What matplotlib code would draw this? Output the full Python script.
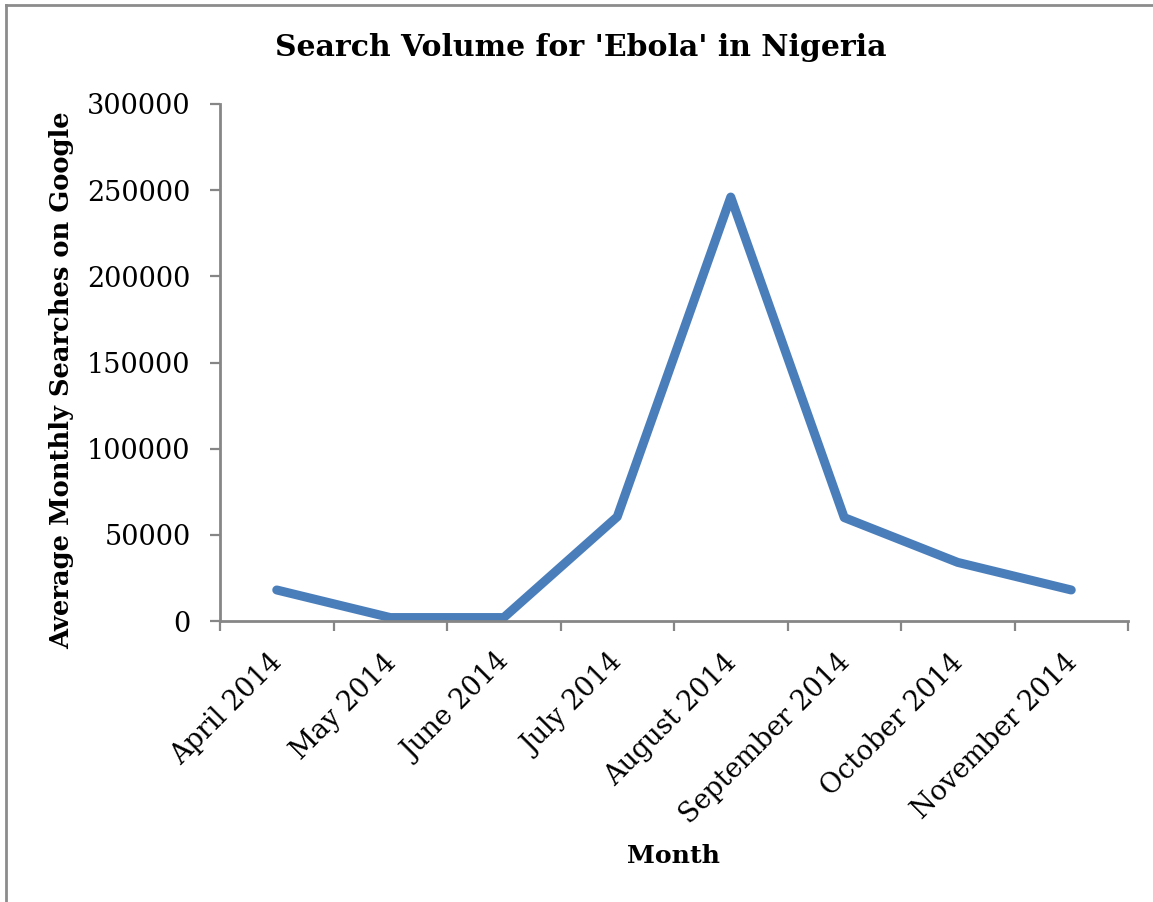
import matplotlib
matplotlib.use("Agg")
import matplotlib.pyplot as plt
from matplotlib.lines import Line2D

months = ["April 2014", "May 2014", "June 2014", "July 2014",
          "August 2014", "September 2014", "October 2014", "November 2014"]
searches = [18000, 2000, 2000, 60500, 246000, 60000, 34000, 18000]
y_ticks = [0, 50000, 100000, 150000, 200000, 250000, 300000]

line_color = "#4a7ebb"
axis_color = "#868686"
serif = ["DejaVu Serif"]

fig = plt.figure(figsize=(11.53, 9.02), dpi=100)
fig.patch.set_facecolor("white")

# outer chart frame (top and left edges)
fig.add_artist(Line2D([5.5 / 1153, 5.5 / 1153], [0, 1 - 4.5 / 902],
                      transform=fig.transFigure, color="#8c8c8c", lw=2))
fig.add_artist(Line2D([5.5 / 1153, 1], [1 - 4.5 / 902, 1 - 4.5 / 902],
                      transform=fig.transFigure, color="#8c8c8c", lw=2))

ax = fig.add_axes([220 / 1153, 1 - 621 / 902, (1128 - 220) / 1153, (621 - 104) / 902])

x = list(range(len(months)))
ax.plot(x, searches, color=line_color, lw=6.5, solid_capstyle="round",
        solid_joinstyle="round")

ax.set_xlim(-0.5, len(months) - 0.5)
ax.set_ylim(0, 300000)
ax.set_yticks(y_ticks)
ax.set_yticklabels([str(v) for v in y_ticks], fontfamily=serif, fontsize=19.5)

# category boundaries carry the tick marks; rotated labels hang just left of centre
ax.set_xticks([i - 0.5 for i in range(len(months) + 1)])
ax.set_xticklabels([])
ax.set_xticks([i - 0.07 for i in x], minor=True)
ax.set_xticklabels(months, minor=True, rotation=45, ha="right", va="top",
                   rotation_mode="anchor", fontfamily=serif, fontsize=19.5)
ax.tick_params(axis="x", which="minor", length=0, pad=20)
ax.tick_params(axis="x", which="major", length=7.2, width=1.6, color=axis_color)
ax.tick_params(axis="y", length=7.2, width=1.6, color=axis_color, pad=14)

for side in ("top", "right"):
    ax.spines[side].set_visible(False)
for side in ("left", "bottom"):
    ax.spines[side].set_color(axis_color)
    ax.spines[side].set_linewidth(2)

fig.text(581 / 1153, 1 - 48 / 902, "Search Volume for 'Ebola' in Nigeria",
         ha="center", va="center", fontfamily=serif, fontsize=21.5, fontweight="bold")
fig.text(674 / 1153, 1 - 856 / 902, "Month", ha="center", va="center",
         fontfamily=serif, fontsize=18.2, fontweight="bold")
fig.text(62 / 1153, 1 - 380 / 902, "Average Monthly Searches on Google",
         ha="center", va="center", rotation=90, fontfamily=serif, fontsize=18.5,
         fontweight="bold")

fig.savefig("out.png", dpi=100)
